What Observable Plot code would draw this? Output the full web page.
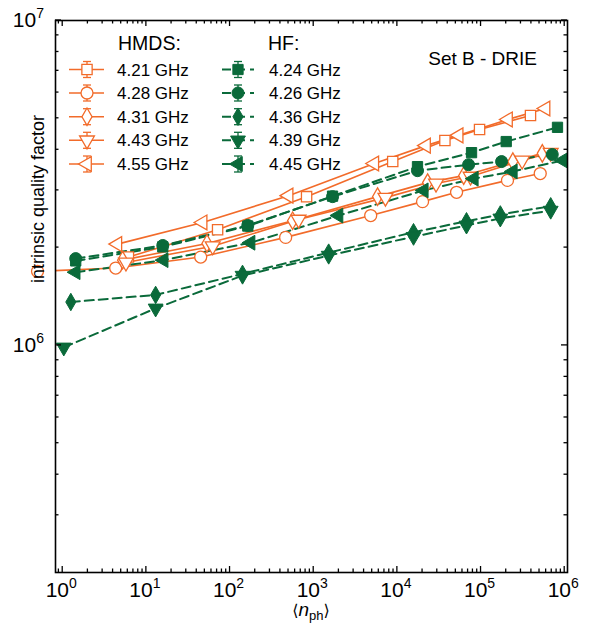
<!DOCTYPE html>
<html><head><meta charset="utf-8">
<script src="https://cdn.jsdelivr.net/npm/d3@7"></script>
<script src="https://cdn.jsdelivr.net/npm/@observablehq/plot@0.6"></script>
<style>
body{margin:0;background:#fff;}
#wrap{position:relative;width:597px;height:625px;font-family:"Liberation Sans",Arial,sans-serif;}
</style></head><body><div id="wrap"></div>
<script>
// ---------- data ----------
const hmdsNames = ["4.21 GHz","4.28 GHz","4.31 GHz","4.43 GHz","4.55 GHz"];
const hfNames   = ["4.24 GHz","4.26 GHz","4.36 GHz","4.39 GHz","4.45 GHz"];
const xTickExps = [0,1,2,3,4,5,6];
const yTickExps = [6,7];

// HMDS (open symbols, solid lines)
const n421 = [6.1, 71, 822, 8.8e3, 3.7e4, 9.6e4, 3.9e5];
const q421 = [1.87e6, 2.27e6, 2.87e6, 3.68e6, 4.27e6, 4.62e6, 5.1e6];
const n428 = [0.5, 4.3, 44.6, 462, 4.8e3, 2.0e4, 5.1e4, 2.07e5, 5.1e5];
const q428 = [1.69e6, 1.73e6, 1.87e6, 2.15e6, 2.51e6, 2.77e6, 2.96e6, 3.22e6, 3.38e6];
const n431 = [5.2, 53, 560, 5.8e3, 2.3e4, 6.2e4, 2.4e5, 5.4e5];
const q431 = [1.83e6, 2.06e6, 2.42e6, 2.87e6, 3.17e6, 3.33e6, 3.68e6, 3.9e6];
const n443 = [5.7, 62, 660, 7.2e3, 2.9e4, 7.5e4, 3.1e5, 6.8e5];
const q443 = [1.8e6, 2.02e6, 2.44e6, 2.85e6, 3.15e6, 3.31e6, 3.71e6, 3.92e6];
const n455 = [4.5, 47, 501, 5.3e3, 2.2e4, 5.4e4, 2.1e5, 5.9e5];
const q455 = [2.05e6, 2.39e6, 2.89e6, 3.63e6, 4.12e6, 4.43e6, 4.96e6, 5.36e6];

// HF (filled symbols, dashed lines)
const n424 = [1.43, 15.7, 163, 1.68e3, 1.74e4, 7.7e4, 2.0e5, 8.2e5];
const q424 = [1.82e6, 2.01e6, 2.33e6, 2.88e6, 3.55e6, 3.92e6, 4.24e6, 4.69e6];
const n426 = [1.43, 15.7, 163, 1.68e3, 1.74e4, 7.1e4, 1.76e5, 7.1e5];
const q426 = [1.85e6, 2.03e6, 2.34e6, 2.87e6, 3.45e6, 3.6e6, 3.68e6, 3.87e6];
const n436 = [1.25, 12.9, 141, 1.51e3, 1.56e4, 6.7e4, 1.7e5, 6.8e5];
const q436 = [1.36e6, 1.43e6, 1.66e6, 1.93e6, 2.23e6, 2.41e6, 2.53e6, 2.68e6];
const n439 = [1.03, 12.9, 141, 1.51e3, 1.56e4, 6.7e4, 1.7e5, 6.8e5];
const q439 = [0.986e6, 1.3e6, 1.64e6, 1.89e6, 2.16e6, 2.34e6, 2.46e6, 2.6e6];
const n445 = [1.43, 16.1, 176, 1.98e3, 2.07e4, 8.2e4, 2.4e5, 9.5e5];
const q445 = [1.68e6, 1.83e6, 2.07e6, 2.51e6, 3.0e6, 3.26e6, 3.43e6, 3.71e6];

// ---------- styles ----------
const ORANGE = "#f26b2a", GREEN = "#0a6a3a";
const seriesList = [
  {name: hmdsNames[0], n: n421, q: q421, hf: false, sym: "square",   rot: 0,   r: 5.8},
  {name: hmdsNames[1], n: n428, q: q428, hf: false, sym: "circle",   rot: 0,   r: 6},
  {name: hmdsNames[2], n: n431, q: q431, hf: false, sym: "diamond",  rot: 0,   r: 5.3},
  {name: hmdsNames[3], n: n443, q: q443, hf: false, sym: "triangle", rot: 180, r: 5.5},
  {name: hmdsNames[4], n: n455, q: q455, hf: false, sym: "triangle", rot: -90, r: 5.5},
  {name: hfNames[0],   n: n424, q: q424, hf: true,  sym: "square",   rot: 0,   r: 5.8},
  {name: hfNames[1],   n: n426, q: q426, hf: true,  sym: "circle",   rot: 0,   r: 6},
  {name: hfNames[2],   n: n436, q: q436, hf: true,  sym: "diamond",  rot: 0,   r: 5.3},
  {name: hfNames[3],   n: n439, q: q439, hf: true,  sym: "triangle", rot: 180, r: 5.5},
  {name: hfNames[4],   n: n445, q: q445, hf: true,  sym: "triangle", rot: -90, r: 5.5}
];
const rowsOf = s => s.n.map((v, i) => ({n: v, q: s.q[i]}));

const lineMarks = seriesList.map(s => Plot.line(rowsOf(s), {
  x: "n", y: "q", clip: true,
  stroke: s.hf ? GREEN : ORANGE,
  strokeWidth: s.hf ? 2 : 1.6,
  strokeDasharray: s.hf ? "9,5" : null
}));
const dotMarks = seriesList.map(s => Plot.dot(rowsOf(s), {
  x: "n", y: "q", symbol: s.sym, r: s.r, rotate: s.rot,
  fill: s.hf ? GREEN : "white",
  stroke: s.hf ? GREEN : ORANGE,
  strokeWidth: s.hf ? 1 : 1.3
}));

const W = 597, H = 625;
const chart = Plot.plot({
  width: W, height: H,
  marginLeft: 55, marginRight: 30, marginTop: 20, marginBottom: 53,
  style: {fontFamily: "Liberation Sans, Arial, sans-serif", background: "white"},
  x: {type: "log", domain: [0.82, 1.08e6], axis: null},
  y: {type: "log", domain: [2e5, 1e7], axis: null},
  marks: [...lineMarks, ...dotMarks, Plot.frame({stroke: "black", strokeWidth: 1.6})]
});
document.getElementById("wrap").appendChild(chart);

// ---------- axes: inward ticks on all sides, superscript labels ----------
const sx = chart.scale("x"), sy = chart.scale("y");
const svg = d3.select(chart);
const x0 = 55, x1 = W - 30, y0 = 20, y1 = H - 53;
const g = svg.append("g").attr("stroke", "black").attr("stroke-width", 1.3);
const xmin = 0.82, xmax = 1.08e6, ymin = 2e5, ymax = 1e7;
for (let e = -1; e <= 6; e++) {
  for (let m = 1; m <= 9; m++) {
    const v = m * Math.pow(10, e);
    if (v < xmin || v > xmax) continue;
    const px = sx.apply(v), len = m === 1 ? 6 : 3.5;
    g.append("line").attr("x1", px).attr("x2", px).attr("y1", y1).attr("y2", y1 - len);
    g.append("line").attr("x1", px).attr("x2", px).attr("y1", y0).attr("y2", y0 + len);
  }
}
for (let e = 5; e <= 7; e++) {
  for (let m = 1; m <= 9; m++) {
    const v = m * Math.pow(10, e);
    if (v <= ymin || v > ymax) continue;
    const py = sy.apply(v), len = m === 1 ? 6 : 3.5;
    g.append("line").attr("y1", py).attr("y2", py).attr("x1", x0).attr("x2", x0 + len);
    g.append("line").attr("y1", py).attr("y2", py).attr("x1", x1).attr("x2", x1 - len);
  }
}
const lab = svg.append("g").attr("font-family", "Liberation Sans, Arial, sans-serif")
  .attr("fill", "black").attr("text-anchor", "start");
xTickExps.forEach(e => {
  const t = lab.append("text").attr("x", sx.apply(Math.pow(10, e)) - 1).attr("y", 597)
    .attr("text-anchor", "middle").attr("font-size", 21);
  t.append("tspan").text("10");
  t.append("tspan").attr("dy", -9).attr("font-size", 14).text(String(e));
});
yTickExps.forEach(e => {
  const t = lab.append("text").attr("x", 44).attr("y", sy.apply(Math.pow(10, e)) + 7)
    .attr("text-anchor", "end").attr("font-size", 21);
  t.append("tspan").text("10");
  t.append("tspan").attr("dy", -9).attr("font-size", 14).text(String(e));
});
// axis titles
const xt = lab.append("text").attr("x", (x0 + x1) / 2).attr("y", 616).attr("text-anchor", "middle").attr("font-size", 19);
xt.append("tspan").attr("font-family", "DejaVu Sans").attr("font-size", 16).text("\u27E8");
xt.append("tspan").attr("font-style", "italic").text("n");
xt.append("tspan").attr("dy", 4).attr("font-size", 13).text("ph");
xt.append("tspan").attr("dy", -4).attr("font-family", "DejaVu Sans").attr("font-size", 16).text("\u27E9");
lab.append("text").attr("transform", `translate(44,199) rotate(-90)`)
  .attr("text-anchor", "middle").attr("font-size", 18).text("intrinsic quality factor");

// annotation
lab.append("text").attr("x", 537).attr("y", 65).attr("text-anchor", "end").attr("font-size", 19).text("Set B - DRIE");

// ---------- legend ----------
const symType = {square: d3.symbolSquare, circle: d3.symbolCircle, diamond: d3.symbolDiamond, triangle: d3.symbolTriangle};
const leg = svg.append("g").attr("font-family", "Liberation Sans, Arial, sans-serif").attr("text-anchor", "start");
leg.append("text").attr("x", 118).attr("y", 50).attr("font-size", 19.5).text("HMDS:");
leg.append("text").attr("x", 268).attr("y", 50).attr("font-size", 19.5).text("HF:");
const rowY = [69.5, 93, 116.7, 140.3, 164];
seriesList.forEach((s, i) => {
  const row = i % 5, cy = rowY[row];
  const cx = s.hf ? 238 : 87, lx0 = s.hf ? 222 : 69, lx1 = s.hf ? 254 : 104, tx = s.hf ? 269 : 117;
  const col = s.hf ? GREEN : ORANGE;
  leg.append("line").attr("x1", lx0).attr("x2", lx1).attr("y1", cy).attr("y2", cy)
    .attr("stroke", col).attr("stroke-width", s.hf ? 2 : 1.6).attr("stroke-dasharray", s.hf ? "9,5" : null);
  leg.append("line").attr("x1", cx).attr("x2", cx).attr("y1", cy - 8).attr("y2", cy + 8).attr("stroke", col).attr("stroke-width", 1.3);
  [-8, 8].forEach(d => leg.append("line").attr("x1", cx - 4).attr("x2", cx + 4).attr("y1", cy + d).attr("y2", cy + d).attr("stroke", col).attr("stroke-width", 1.3));
  leg.append("path").attr("d", d3.symbol(symType[s.sym], s.r * s.r * Math.PI)())
    .attr("transform", `translate(${cx},${cy}) rotate(${s.rot})`)
    .attr("fill", s.hf ? col : "white").attr("stroke", col).attr("stroke-width", s.hf ? 1 : 1.3);
  leg.append("text").attr("x", tx).attr("y", cy + 6).attr("font-size", 17).attr("fill", "black").text(s.name);
});
</script>
</body></html>
